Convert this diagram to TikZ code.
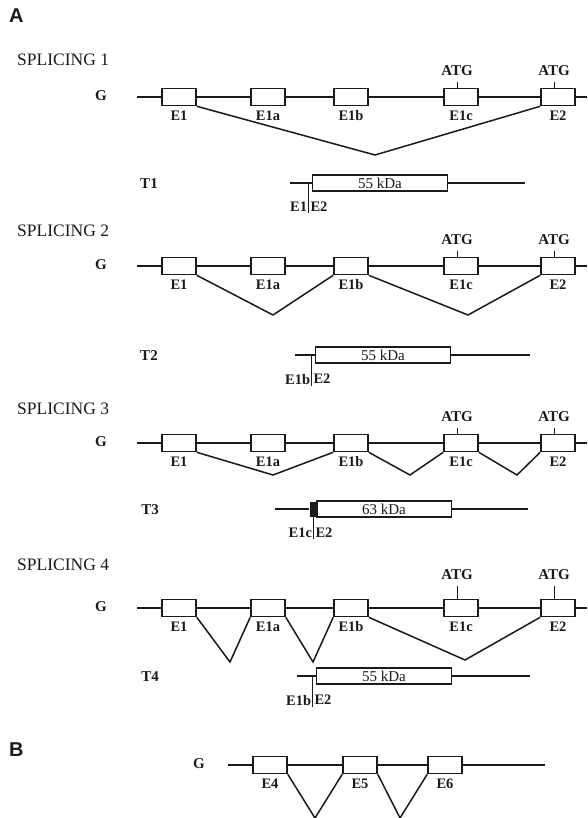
\documentclass[tikz,border=0pt]{standalone}
\usepackage{fontspec}
\setmainfont{Liberation Serif}
\newfontfamily\panelfont{Liberation Sans}
\usetikzlibrary{positioning}
\definecolor{inkc}{HTML}{1A1A1A}

\begin{document}
\begin{tikzpicture}[
  x=1pt, y=-1pt,
  font=\fontsize{15}{17}\selectfont,
  exon/.style={rectangle, draw=inkc, line width=1.6pt, fill=white,
               minimum width=34pt, minimum height=17pt, inner sep=0pt},
  orf/.style={rectangle, draw=inkc, line width=1.4pt, fill=white,
              minimum width=135pt, minimum height=16pt, inner sep=0pt,
              font=\fontsize{15}{17}\selectfont, text=inkc},
  gene/.style={draw=inkc, line width=2.4pt},
  utr/.style={draw=inkc, line width=1.4pt},
  splice/.style={draw=inkc, line width=1.5pt},
  junc/.style={draw=inkc, line width=0.7pt},
  exlbl/.style={font=\bfseries\fontsize{14.5}{17}\selectfont, inner sep=1pt, text=inkc},
  atg/.style={font=\bfseries\fontsize{15}{17}\selectfont, inner sep=1pt, text=inkc},
  title/.style={font=\fontsize{17.5}{20}\selectfont, anchor=west, inner sep=0pt, text=inkc},
  panel/.style={font=\panelfont\bfseries\fontsize{20}{22}\selectfont, anchor=west,
                inner sep=0pt, text=inkc},
  rowlbl/.style={font=\bfseries\fontsize{15}{17}\selectfont, inner sep=0pt, text=inkc},
  label distance=3pt,
]
\useasboundingbox (0,0) rectangle (587,818);

% ---- panel A ----
\node[panel] (pa) at (9,16) {A};

% ---- splicing 1 ----
\node[title] (s1) at (17,60) {SPLICING 1};
\node[rowlbl] (g1) at (101,96) {G};
\coordinate (g1s) at (137,97);
\coordinate (g1e) at (587,97);
\draw[gene] (g1s) -- (g1e);
\node[exon, label={[exlbl]below:E1}]  (r1e1) at (179,97) {};
\node[exon, label={[exlbl]below:E1a}] (r1a)  at (268,97) {};
\node[exon, label={[exlbl]below:E1b}] (r1b)  at (351,97) {};
\node[exon, label={[exlbl]below:E1c}] (r1c)  at (461,97) {};
\node[exon, label={[exlbl]below:E2}]  (r1e2) at (558,97) {};
\node[atg, above=11pt of r1c, xshift=-4pt]  (atg1c) {ATG};
\node[atg, above=11pt of r1e2, xshift=-4pt] (atg1e) {ATG};
\draw[junc, shorten <=5pt] (atg1c.south) -- (atg1c.south |- r1c.north);
\draw[junc, shorten <=5pt] (atg1e.south) -- (atg1e.south |- r1e2.north);
\coordinate (v1) at (375,155);
\draw[splice] (r1e1.south east) -- (v1) -- (r1e2.south west);

% ---- transcript T1 ----
\node[rowlbl] (t1) at (149,184) {T1};
\node[orf] (p1) at (380,183) {55 kDa};
\coordinate (p1l) at (290,183);
\coordinate (p1r) at (525,183);
\draw[utr] (p1l) -- (p1.west);
\draw[utr] (p1.east) -- (p1r);
\coordinate (j1) at ([xshift=-3pt]p1.west);
\node[exlbl, below left=18pt and 0.5pt of j1]  (j1l) {E1};
\node[exlbl, below right=18pt and 0.5pt of j1] (j1r) {E2};
\draw[junc] (j1) -- (j1 |- j1l.south);

% ---- splicing 2 ----
\node[title] (s2) at (17,231) {SPLICING 2};
\node[rowlbl] (g2) at (101,265) {G};
\coordinate (g2s) at (137,266);
\coordinate (g2e) at (587,266);
\draw[gene] (g2s) -- (g2e);
\node[exon, label={[exlbl]below:E1}]  (r2e1) at (179,266) {};
\node[exon, label={[exlbl]below:E1a}] (r2a)  at (268,266) {};
\node[exon, label={[exlbl]below:E1b}] (r2b)  at (351,266) {};
\node[exon, label={[exlbl]below:E1c}] (r2c)  at (461,266) {};
\node[exon, label={[exlbl]below:E2}]  (r2e2) at (558,266) {};
\node[atg, above=11pt of r2c, xshift=-4pt]  (atg2c) {ATG};
\node[atg, above=11pt of r2e2, xshift=-4pt] (atg2e) {ATG};
\draw[junc, shorten <=5pt] (atg2c.south) -- (atg2c.south |- r2c.north);
\draw[junc, shorten <=5pt] (atg2e.south) -- (atg2e.south |- r2e2.north);
\coordinate (v2a) at (273,315);
\coordinate (v2b) at (468,315);
\draw[splice] (r2e1.south east) -- (v2a) -- (r2b.south west);
\draw[splice] (r2b.south east) -- (v2b) -- (r2e2.south west);

% ---- transcript T2 ----
\node[rowlbl] (t2) at (149,356) {T2};
\node[orf] (p2) at (383,355) {55 kDa};
\coordinate (p2l) at (295,355);
\coordinate (p2r) at (530,355);
\draw[utr] (p2l) -- (p2.west);
\draw[utr] (p2.east) -- (p2r);
\coordinate (j2) at ([xshift=-3pt]p2.west);
\node[exlbl, below left=18pt and 0.5pt of j2]  (j2l) {E1b};
\node[exlbl, below right=18pt and 0.5pt of j2] (j2r) {E2};
\draw[junc] (j2) -- (j2 |- j2l.south);

% ---- splicing 3 ----
\node[title] (s3) at (17,409) {SPLICING 3};
\node[rowlbl] (g3) at (101,442) {G};
\coordinate (g3s) at (137,443);
\coordinate (g3e) at (587,443);
\draw[gene] (g3s) -- (g3e);
\node[exon, label={[exlbl]below:E1}]  (r3e1) at (179,443) {};
\node[exon, label={[exlbl]below:E1a}] (r3a)  at (268,443) {};
\node[exon, label={[exlbl]below:E1b}] (r3b)  at (351,443) {};
\node[exon, label={[exlbl]below:E1c}] (r3c)  at (461,443) {};
\node[exon, label={[exlbl]below:E2}]  (r3e2) at (558,443) {};
\node[atg, above=11pt of r3c, xshift=-4pt]  (atg3c) {ATG};
\node[atg, above=11pt of r3e2, xshift=-4pt] (atg3e) {ATG};
\draw[junc, shorten <=5pt] (atg3c.south) -- (atg3c.south |- r3c.north);
\draw[junc, shorten <=5pt] (atg3e.south) -- (atg3e.south |- r3e2.north);
\coordinate (v3a) at (273,475);
\coordinate (v3b) at (410,475);
\coordinate (v3c) at (517,475);
\draw[splice] (r3e1.south east) -- (v3a) -- (r3b.south west);
\draw[splice] (r3b.south east) -- (v3b) -- (r3c.south west);
\draw[splice] (r3c.south east) -- (v3c) -- (r3e2.south west);

% ---- transcript T3 ----
\node[rowlbl] (t3) at (150,510) {T3};
\node[orf] (p3) at (384,509) {63 kDa};
\coordinate (p3l) at (275,509);
\coordinate (p3r) at (528,509);
\node[fill=inkc, minimum width=8pt, minimum height=15pt, inner sep=0pt,
      anchor=east] (cap3) at ([xshift=2pt]p3.west) {};
\draw[utr] (p3l) -- (cap3.west);
\draw[utr] (p3.east) -- (p3r);
\coordinate (j3) at ([xshift=-2pt]p3.west);
\node[exlbl, below left=18pt and 0.5pt of j3]  (j3l) {E1c};
\node[exlbl, below right=18pt and 0.5pt of j3] (j3r) {E2};
\draw[junc] (j3) -- (j3 |- j3l.south);

% ---- splicing 4 ----
\node[title] (s4) at (17,565) {SPLICING 4};
\node[rowlbl] (g4) at (101,607) {G};
\coordinate (g4s) at (137,608);
\coordinate (g4e) at (587,608);
\draw[gene] (g4s) -- (g4e);
\node[exon, label={[exlbl]below:E1}]  (r4e1) at (179,608) {};
\node[exon, label={[exlbl]below:E1a}] (r4a)  at (268,608) {};
\node[exon, label={[exlbl]below:E1b}] (r4b)  at (351,608) {};
\node[exon, label={[exlbl]below:E1c}] (r4c)  at (461,608) {};
\node[exon, label={[exlbl]below:E2}]  (r4e2) at (558,608) {};
\node[atg, above=18pt of r4c, xshift=-4pt]  (atg4c) {ATG};
\node[atg, above=18pt of r4e2, xshift=-4pt] (atg4e) {ATG};
\draw[junc, shorten <=5pt] (atg4c.south) -- (atg4c.south |- r4c.north);
\draw[junc, shorten <=5pt] (atg4e.south) -- (atg4e.south |- r4e2.north);
\coordinate (v4a) at (230,662);
\coordinate (v4b) at (313,662);
\coordinate (v4c) at (465,660);
\draw[splice] (r4e1.south east) -- (v4a) -- (r4a.south west);
\draw[splice] (r4a.south east) -- (v4b) -- (r4b.south west);
\draw[splice] (r4b.south east) -- (v4c) -- (r4e2.south west);

% ---- transcript T4 ----
\node[rowlbl] (t4) at (150,677) {T4};
\node[orf] (p4) at (384,676) {55 kDa};
\coordinate (p4l) at (297,676);
\coordinate (p4r) at (530,676);
\draw[utr] (p4l) -- (p4.west);
\draw[utr] (p4.east) -- (p4r);
\coordinate (j4) at ([xshift=-3pt]p4.west);
\node[exlbl, below left=18pt and 0.5pt of j4]  (j4l) {E1b};
\node[exlbl, below right=18pt and 0.5pt of j4] (j4r) {E2};
\draw[junc] (j4) -- (j4 |- j4l.south);

% ---- panel B ----
\node[panel] (pb) at (9,750) {B};
\node[rowlbl] (g5) at (199,764) {G};
\coordinate (g5s) at (228,765);
\coordinate (g5e) at (545,765);
\draw[gene] (g5s) -- (g5e);
\node[exon, label={[exlbl]below:E4}] (r5d) at (270,765) {};
\node[exon, label={[exlbl]below:E5}] (r5e) at (360,765) {};
\node[exon, label={[exlbl]below:E6}] (r5f) at (445,765) {};
\coordinate (v5a) at (315,818);
\coordinate (v5b) at (400,818);
\draw[splice] (r5d.south east) -- (v5a) -- (r5e.south west);
\draw[splice] (r5e.south east) -- (v5b) -- (r5f.south west);
\end{tikzpicture}
\end{document}
